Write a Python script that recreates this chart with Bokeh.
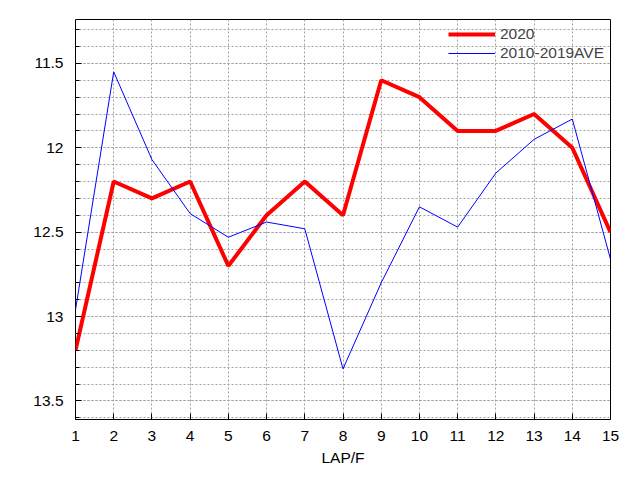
import bokeh.plotting as bplt
import bokeh.models as bmod
from bokeh.embed import file_html
from bokeh.resources import INLINE

laps = list(range(1, 16))
y2020 = [13.2, 12.2, 12.3, 12.2, 12.7, 12.4, 12.2, 12.4, 11.6, 11.7, 11.9, 11.9, 11.8, 12.0, 12.5]
yave = [12.96, 11.55, 12.07, 12.39, 12.53, 12.44, 12.48, 13.31, 12.80, 12.35, 12.47, 12.15, 11.95, 11.83, 12.66]
y_ticks = [11.5, 12.0, 12.5, 13.0, 13.5]
y_labels = ["11.5", "12", "12.5", "13", "13.5"]
y_minor = [round(11.3 + 0.1 * i, 1) for i in range(24)]

FONT = "Liberation Sans"
FSIZE = "15.5px"

p = bplt.figure(
    width=640, height=480,
    x_range=bmod.Range1d(1, 15),
    y_range=bmod.Range1d(13.61, 11.24),
    output_backend="svg",
    toolbar_location=None,
    x_axis_label="LAP/F",
)
p.min_border_left = 75
p.min_border_right = 30
p.min_border_top = 19
p.min_border_bottom = 61
p.outline_line_color = "black"
p.outline_line_width = 1
p.outline_line_alpha = 1.0
p.background_fill_color = "white"
p.border_fill_color = "white"

xt = bmod.FixedTicker(ticks=laps)
yt = bmod.FixedTicker(ticks=y_ticks, minor_ticks=y_minor)

xax = p.xaxis[0]
yax = p.yaxis[0]
xax.ticker = xt
yax.ticker = yt
yax.major_label_overrides = {v: s for v, s in zip(y_ticks, y_labels)}

for ax in (xax, yax):
    ax.axis_line_color = None
    ax.major_tick_in = 6
    ax.major_tick_out = 0
    ax.minor_tick_in = 4
    ax.minor_tick_out = 0
    ax.major_tick_line_color = "black"
    ax.minor_tick_line_color = "black"
    ax.major_label_text_font = FONT
    ax.major_label_text_font_size = FSIZE
    ax.major_label_text_color = "black"
    ax.axis_label_text_font = FONT
    ax.axis_label_text_font_size = FSIZE
    ax.axis_label_text_font_style = "normal"
    ax.axis_label_text_color = "black"
xax.major_label_standoff = 11
xax.axis_label_standoff = 5
yax.major_label_standoff = 12

for g in p.xgrid + p.ygrid:
    g.grid_line_color = "#a0a0a0"
    g.grid_line_dash = "2 2"
    g.grid_line_width = 1
p.ygrid.minor_grid_line_color = "#a0a0a0"
p.ygrid.minor_grid_line_dash = "2 2"
p.ygrid.ticker = yt
p.xgrid.ticker = xt

p.line(laps, y2020, line_color="#ff0000", line_width=4, legend_label="2020")
p.line(laps, yave, line_color="#0000ff", line_width=1, legend_label="2010-2019AVE")

lg = p.legend[0]
lg.location = "top_right"
lg.border_line_color = None
lg.background_fill_alpha = 0
lg.label_text_font = FONT
lg.label_text_font_size = FSIZE
lg.glyph_width = 47
lg.spacing = 1
lg.padding = 4
lg.margin = 6
lg.label_height = 18
lg.glyph_height = 18

open("out.html", "w").write(file_html(p, INLINE))
